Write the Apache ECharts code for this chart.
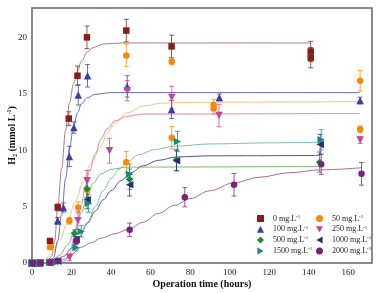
<!DOCTYPE html>
<html>
<head>
<meta charset="utf-8">
<script src="https://cdn.jsdelivr.net/npm/echarts@6/dist/echarts.min.js"></script>
<style>
  html, body { margin: 0; padding: 0; background: #fff; }
  #chart { width: 381px; height: 293px; }
</style>
</head>
<body>
<div id="chart"></div>
<script>
// measured points (time h, H2 mmol/L, error)
var t0 = [0, 4, 9.1, 13, 18.6, 23, 27.8, 47.7, 70.6, 141, 141];
var h0 = [0, 0.05, 1.95, 4.93, 12.8, 16.6, 20.0, 20.6, 19.2, 18.75, 18.2];
var e0 = [0, 0, 0.2, 0.3, 0.6, 0.85, 1.0, 1.0, 1.0, 0.9, 0.9];

var t50 = [0, 4, 9.1, 18.9, 23.4, 27.9, 47.7, 47.7, 70.7, 70.7, 91.9, 91.9, 166, 166];
var h50 = [0, 0, 1.4, 3.74, 4.92, 6.5, 18.4, 8.93, 17.86, 11.1, 13.7, 14.0, 16.15, 11.86];
var e50 = [0, 0, 0.2, 0.3, 0.5, 0.7, 1.0, 0.95, 0.3, 1.0, 0.5, 0.5, 0.9, 0.3];

var t100 = [0, 3.7, 9, 13, 15.9, 18.9, 21.2, 23.4, 28.1, 48.2, 70.6, 94.8, 166];
var h100 = [0, 0, 0.1, 3.74, 4.92, 9.44, 12.0, 14.9, 16.6, 15.65, 13.6, 14.67, 14.4];
var e100 = [0, 0, 0, 0.3, 0.4, 0.9, 0.5, 0.9, 1.0, 0.95, 0.8, 0.3, 0.3];

var t250 = [0, 4, 9, 13, 19, 23.2, 27.9, 39.2, 48.2, 70.7, 94.6, 166];
var h250 = [0, 0, 0.05, 0.1, 0.49, 3.74, 7.3, 9.95, 15.27, 14.67, 13.07, 10.9];
var e250 = [0, 0, 0, 0, 0.3, 0.8, 0.9, 1.1, 0.9, 1.0, 1.0, 0.3];

var t500 = [0, 4, 9, 13, 21.5, 27.8, 49.4, 73.1, 145.5];
var h500 = [0, 0, 0.05, 0.15, 2.64, 6.58, 7.43, 9.15, 8.94];
var e500 = [0, 0, 0, 0.1, 0.3, 0.8, 0.9, 0.95, 0.9];

var t1000 = [0, 4, 9, 13, 22.3, 27.9, 49.4, 73.1, 145.8];
var h1000 = [0, 0, 0.05, 0.15, 2.05, 5.6, 6.93, 9.06, 10.5];
var e1000 = [0, 0, 0, 0.1, 0.3, 0.8, 1.0, 0.9, 0.9];

var t1500 = [0, 4, 9, 13, 22.3, 24.9, 28.6, 49.4, 73.6, 146.3];
var h1500 = [0, 0, 0.05, 0.1, 1.37, 2.8, 5.3, 7.87, 10.77, 10.92];
var e1500 = [0, 0, 0, 0, 0.3, 0.5, 0.8, 0.9, 0.9, 0.9];

var t2000 = [0, 4, 9, 13, 22.3, 49.4, 77.3, 102.2, 146.3, 166.7];
var h2000 = [0, 0, 0.05, 0.2, 1.97, 2.94, 5.83, 6.93, 8.76, 7.9];
var e2000 = [0, 0, 0, 0, 0.3, 0.6, 0.85, 1.0, 0.9, 1.0];

// fitted curves
var ft0 = [8, 10, 11.5, 13, 15, 17, 19, 21, 23, 25, 28, 31, 36, 45, 141];
var fh0 = [0.1, 0.6, 2, 4.9, 8.4, 11.8, 14.2, 15.9, 17.0, 17.9, 18.7, 19.1, 19.4, 19.5, 19.5];
var ft50 = [6, 10, 14, 18, 22, 26, 30, 35, 38, 42, 48, 56, 65, 80, 166];
var fh50 = [0.1, 0.8, 2.0, 3.7, 5.5, 7.3, 8.9, 10.4, 11.5, 12.4, 13.3, 13.9, 14.15, 14.25, 14.3];
var ft100 = [9, 11, 13, 15, 17, 19, 21, 23, 25, 28, 32, 40, 166];
var fh100 = [0.1, 0.5, 2, 4.3, 7.5, 10.2, 12.1, 13.3, 14.1, 14.65, 14.95, 15.1, 15.1];
var ft250 = [14, 17, 19, 21, 23, 25, 27, 29, 32, 35, 38, 42, 48, 56, 166];
var fh250 = [0, 0.2, 0.8, 2.0, 3.6, 5.2, 6.8, 8.1, 9.7, 11.0, 11.9, 12.6, 13.0, 13.2, 13.25];
var ft500 = [6, 10, 14, 18, 22, 25, 28, 31, 35, 40, 48, 145];
var fh500 = [0, 0.2, 0.7, 1.6, 3.0, 4.5, 6.0, 7.1, 7.9, 8.3, 8.5, 8.55];
var ft1000 = [8, 12, 16, 20, 24, 28, 32, 36, 40, 45, 50, 56, 64, 73, 90, 145];
var fh1000 = [0, 0.2, 0.6, 1.3, 2.3, 3.5, 4.6, 5.6, 6.4, 7.3, 8.0, 8.6, 9.1, 9.4, 9.5, 9.53];
var ft1500 = [8, 12, 16, 20, 24, 28, 32, 36, 40, 44, 48, 54, 62, 72, 90, 120, 146];
var fh1500 = [0, 0.2, 0.6, 1.3, 2.3, 3.6, 5.0, 6.4, 7.5, 8.3, 8.95, 9.6, 10.05, 10.35, 10.55, 10.65, 10.7];
var ft2000 = [12, 16, 20, 25, 30, 35, 42, 49, 56, 64, 72, 80, 90, 102, 115, 130, 146, 167];
var fh2000 = [0, 0.3, 0.8, 1.4, 1.8, 2.2, 2.6, 3.0, 3.6, 4.4, 5.1, 5.7, 6.4, 7.1, 7.6, 8.0, 8.25, 8.45];

var xTicks = [0, 20, 40, 60, 80, 100, 120, 140, 160];
var yTicks = [0, 5, 10, 15, 20];

var triDown = 'path://M0,0L10,0L5,9Z';
var triLeft = 'path://M9,0L9,10L0,5Z';
var triRight = 'path://M0,0L0,10L9,5Z';

var groups = [
  {name: '0', t: t0, h: h0, e: e0, ft: ft0, fh: fh0, color: '#8b1a1a', fit: '#b07a78', symbol: 'rect', size: 6.5, rot: 0, icon: 'rect'},
  {name: '50', t: t50, h: h50, e: e50, ft: ft50, fh: fh50, color: '#f58a0a', fit: '#f0c47a', symbol: 'circle', size: 6.5, rot: 0, icon: 'circle'},
  {name: '100', t: t100, h: h100, e: e100, ft: ft100, fh: fh100, color: '#3a3f9e', fit: '#6a6ab8', symbol: 'triangle', size: 7.5, rot: 0, icon: 'triangle'},
  {name: '250', t: t250, h: h250, e: e250, ft: ft250, fh: fh250, color: '#c4449a', fit: '#d886c4', symbol: 'triangle', size: 7.5, rot: 180, icon: triDown},
  {name: '500', t: t500, h: h500, e: e500, ft: ft500, fh: fh500, color: '#1f8a3a', fit: '#7eb672', symbol: 'diamond', size: 7.5, rot: 0, icon: 'diamond'},
  {name: '1000', t: t1000, h: h1000, e: e1000, ft: ft1000, fh: fh1000, color: '#2b2a72', fit: '#55558a', symbol: 'triangle', size: 7.5, rot: 90, icon: triLeft},
  {name: '1500', t: t1500, h: h1500, e: e1500, ft: ft1500, fh: fh1500, color: '#168a80', fit: '#82bcbc', symbol: 'triangle', size: 7.5, rot: -90, icon: triRight},
  {name: '2000', t: t2000, h: h2000, e: e2000, ft: ft2000, fh: fh2000, color: '#7b2278', fit: '#a86aa4', symbol: 'circle', size: 6.5, rot: 0, icon: 'circle'}
];

function label(n) { return n + ' mg.L-1'; }

function errItem(params, api) {
  var x = api.value(0), y = api.value(1), e = api.value(2);
  if (!e) return { type: 'group', children: [] };
  var a = api.coord([x, y + e]), b = api.coord([x, y - e]);
  var st = { stroke: api.visual('color'), lineWidth: 1, opacity: 0.75 };
  return {
    type: 'group',
    children: [
      { type: 'line', shape: { x1: a[0], y1: a[1], x2: b[0], y2: b[1] }, style: st },
      { type: 'line', shape: { x1: a[0] - 2.5, y1: a[1], x2: a[0] + 2.5, y2: a[1] }, style: st },
      { type: 'line', shape: { x1: b[0] - 2.5, y1: b[1], x2: b[0] + 2.5, y2: b[1] }, style: st }
    ]
  };
}

var series = [];
groups.forEach(function (g) {
  series.push({
    type: 'line', name: 'fit' + g.name, smooth: 0.35, smoothMonotone: 'x',
    showSymbol: false, silent: true, z: 1,
    lineStyle: { color: g.fit, width: 1 },
    data: g.ft.map(function (v, i) { return [v, g.fh[i]]; })
  });
  series.push({
    type: 'custom', name: 'err' + g.name, renderItem: errItem, z: 2,
    itemStyle: { color: g.color },
    data: g.t.map(function (v, i) { return [v, g.h[i], g.e[i]]; })
  });
});
groups.forEach(function (g) {
  series.push({
    type: 'scatter', name: label(g.name), symbol: g.symbol, symbolSize: g.size,
    symbolRotate: g.rot, z: 3,
    itemStyle: { color: g.color, opacity: 1 },
    data: g.t.map(function (v, i) { return [v, g.h[i]]; })
  });
});

var serif = 'Liberation Serif, Times New Roman, serif';
var legendText = {
  fontFamily: serif, fontSize: 8, color: '#222',
  rich: {
    a: { fontFamily: serif, fontSize: 8, color: '#222', lineHeight: 9, padding: [0, 0, 0, 4] },
    s: { fontFamily: serif, fontSize: 5, color: '#222', lineHeight: 9, verticalAlign: 'top' }
  }
};
function legendFmt(n) { return '{a|' + n.replace(' mg.L-1', ' mg.L') + '}{s|-1}'; }

function legendCol(names, left) {
  return {
    orient: 'vertical', left: left, top: 209, itemWidth: 7, itemHeight: 7, itemGap: 2.3,
    data: names.map(function (n) {
      var g = groups.filter(function (q) { return q.name === n; })[0];
      return { name: label(n), icon: g.icon };
    }),
    formatter: legendFmt, textStyle: legendText, selectedMode: false
  };
}

var chart = echarts.init(document.getElementById('chart'));
chart.setOption({
  animation: false,
  grid: { left: 32, right: 9, top: 8, bottom: 30, show: true, borderColor: '#666', borderWidth: 1.5, outerBoundsMode: 'none', containLabel: false },
  legend: [legendCol(['0', '100', '500', '1500'], 252), legendCol(['50', '250', '1000', '2000'], 311)],
  xAxis: {
    type: 'value', min: 0, max: 172, interval: 20,
    name: 'Operation time (hours)', nameLocation: 'middle', nameGap: 16, nameMoveOverlap: false,
    nameTextStyle: { fontFamily: serif, fontSize: 10, fontWeight: 'bold', color: '#111' },
    axisLine: { show: false }, axisTick: { show: false }, splitLine: { show: false },
    axisLabel: {
      fontFamily: serif, fontSize: 9, color: '#222', margin: 5, showMaxLabel: false,
      formatter: function (v) { return xTicks.indexOf(v) >= 0 ? String(v) : ''; }
    }
  },
  yAxis: {
    type: 'value', min: 0, max: 22.6, interval: 5,
    name: '{b|H}{sub|2}{b| (mmol L}{sup|-1}{b|)}', nameLocation: 'middle', nameGap: 14, nameRotate: 90,
    nameMoveOverlap: false,
    nameTextStyle: {
      fontFamily: serif, fontSize: 10, fontWeight: 'bold', color: '#111',
      rich: {
        b: { fontFamily: serif, fontSize: 10, fontWeight: 'bold', color: '#111', lineHeight: 12 },
        sub: { fontFamily: serif, fontSize: 6, fontWeight: 'bold', color: '#111', lineHeight: 12, verticalAlign: 'bottom' },
        sup: { fontFamily: serif, fontSize: 6, fontWeight: 'bold', color: '#111', lineHeight: 12, verticalAlign: 'top' }
      }
    },
    axisLine: { show: false }, axisTick: { show: false }, splitLine: { show: false },
    axisLabel: {
      fontFamily: serif, fontSize: 9, color: '#222', margin: 5, showMaxLabel: false,
      formatter: function (v) { return yTicks.indexOf(v) >= 0 ? String(v) : ''; }
    }
  },
  series: series
});
</script>
</body>
</html>
